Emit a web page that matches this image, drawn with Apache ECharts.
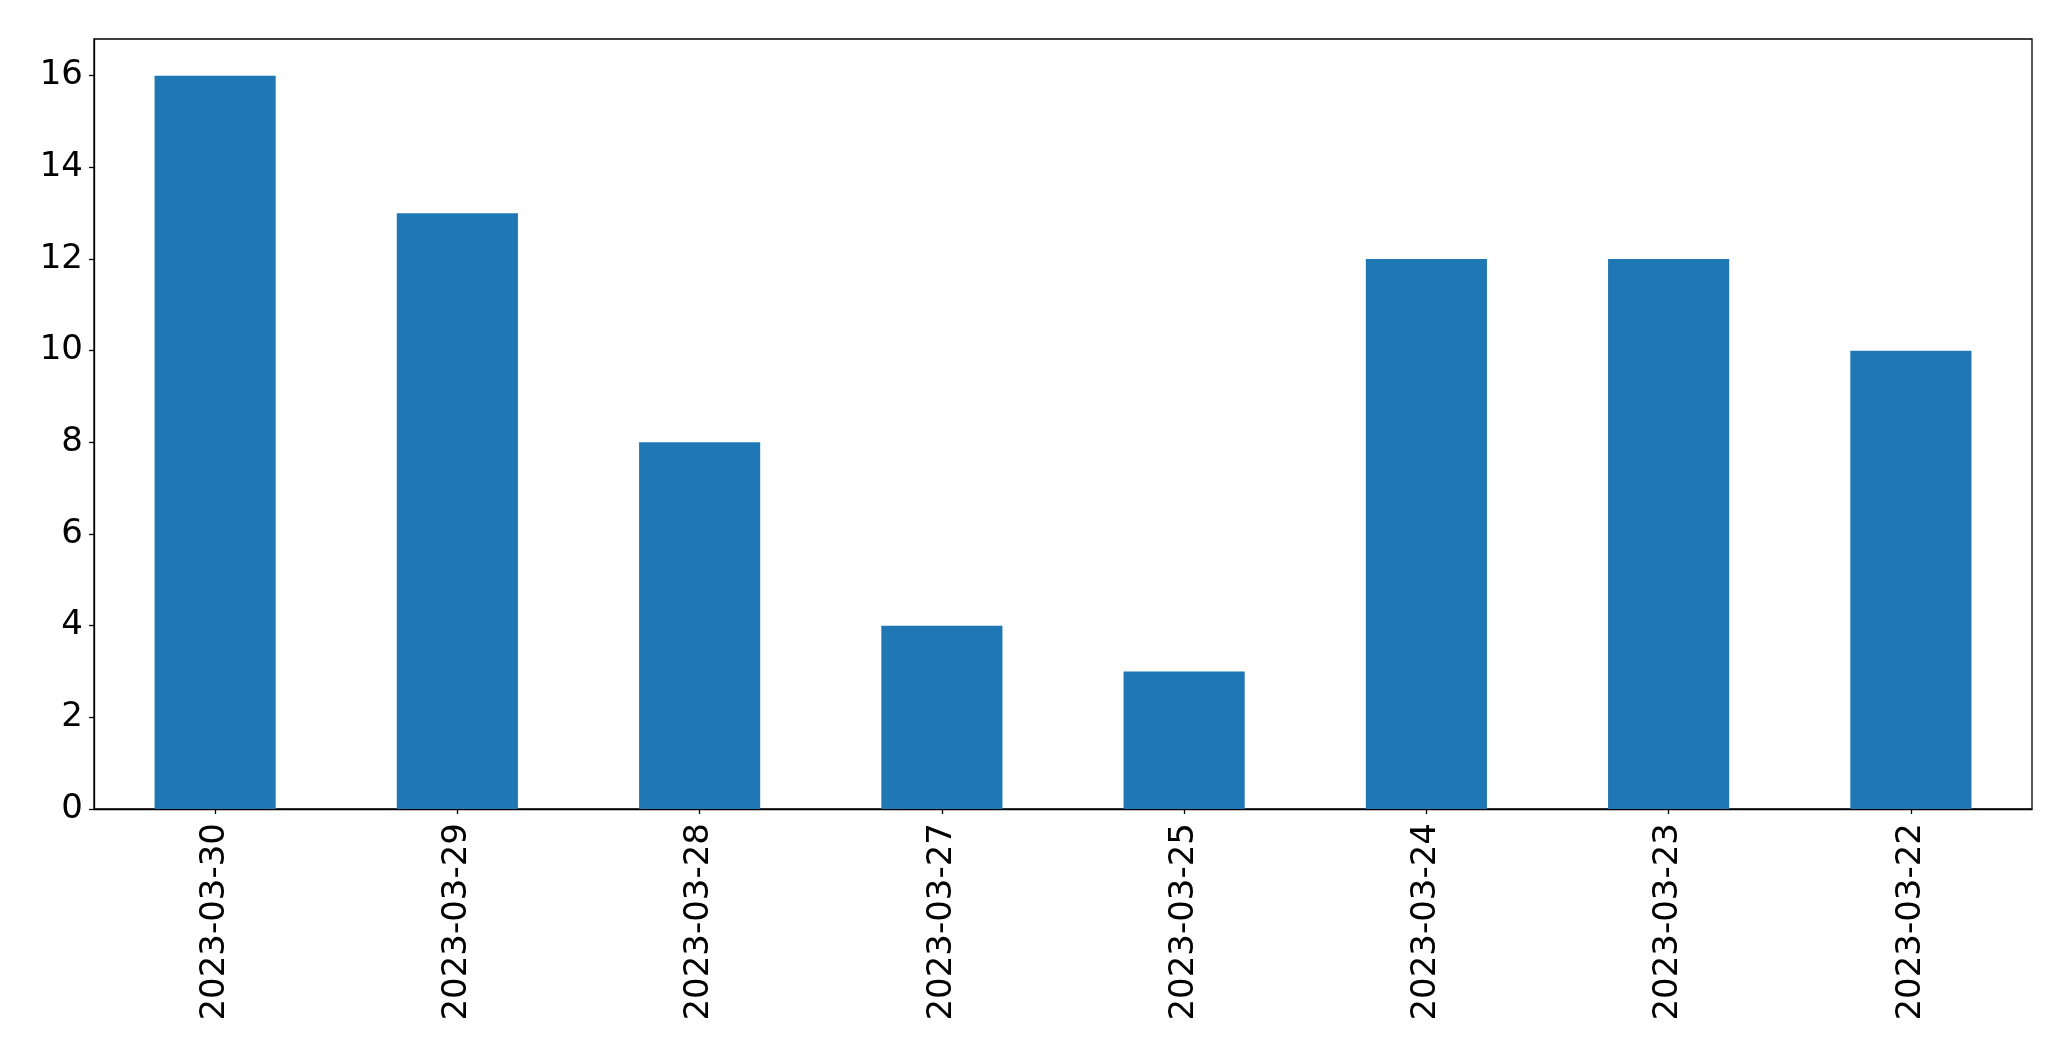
<!DOCTYPE html>
<html>
<head>
<meta charset="utf-8">
<script src="https://cdn.jsdelivr.net/npm/echarts@6/dist/echarts.min.js"></script>
<style>html,body{margin:0;padding:0;background:#fff}#c{width:2071px;height:1061px}</style>
</head>
<body>
<div id="c"></div>
<script>
const categories = ["2023-03-30","2023-03-29","2023-03-28","2023-03-27","2023-03-25","2023-03-24","2023-03-23","2023-03-22"];
const values = [16, 13, 8, 4, 3, 12, 12, 10];
const yTicks = [0, 2, 4, 6, 8, 10, 12, 14, 16];

const chart = echarts.init(document.getElementById('c'), null, {renderer: 'canvas'});
const font = 'DejaVu Sans';
chart.setOption({
  animation: false,
  backgroundColor: '#ffffff',
  grid: {left: 94, right: 39, top: 39, bottom: 252, show: true, borderColor: '#000', borderWidth: 1.3, backgroundColor: 'transparent'},
  xAxis: {
    type: 'category',
    data: categories,
    boundaryGap: true,
    axisLine: {show: true, lineStyle: {color: '#000', width: 1.3}},
    axisTick: {show: true, alignWithLabel: true, length: 5, lineStyle: {color: '#000', width: 1.3}},
    axisLabel: {rotate: 90, fontSize: 34, fontFamily: font, color: '#000', margin: 14, interval: 0}
  },
  yAxis: {
    type: 'value',
    min: 0,
    max: 16.8,
    interval: 2,
    splitLine: {show: false},
    axisLine: {show: true, lineStyle: {color: '#000', width: 1.3}},
    axisTick: {show: true, length: 5, lineStyle: {color: '#000', width: 1.3}},
    axisLabel: {fontSize: 34, fontFamily: font, color: '#000', margin: 11, showMaxLabel: false,
      formatter: v => (yTicks.indexOf(v) >= 0 ? String(v) : '')}
  },
  series: [{
    type: 'bar',
    data: values,
    barWidth: '50%',
    itemStyle: {color: '#1f77b4'}
  }]
});
</script>
</body>
</html>
